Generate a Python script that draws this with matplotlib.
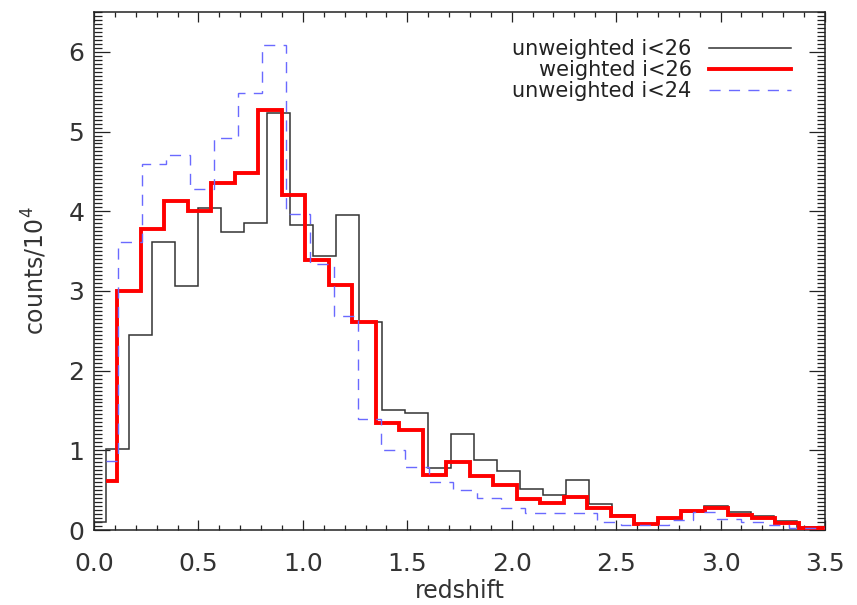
import numpy as np
import matplotlib
matplotlib.use('Agg')
import matplotlib.pyplot as plt
from matplotlib.lines import Line2D
from matplotlib.ticker import MultipleLocator

# ---- data (IDL psym=10 style histograms: bins given by first centre + width) ----
black_first_center = 0.0
black_width = 0.1103
black_counts = [0.10, 1.02, 2.45, 3.62, 3.06, 4.04, 3.74, 3.85, 5.23, 3.83,
                3.44, 3.95, 2.61, 1.50, 1.47, 0.78, 1.21, 0.88, 0.74, 0.51,
                0.44, 0.63, 0.33, 0.19, 0.08, 0.14, 0.23, 0.30, 0.23, 0.17,
                0.11, 0.04, 0.02]

red_first_center = 0.05625
red_width = 0.1125
red_counts = [0.61, 3.00, 3.78, 4.13, 4.00, 4.35, 4.48, 5.27, 4.20, 3.39,
              3.07, 2.61, 1.34, 1.26, 0.69, 0.85, 0.68, 0.56, 0.39, 0.34,
              0.41, 0.28, 0.17, 0.08, 0.155, 0.235, 0.27, 0.19, 0.15, 0.09,
              0.03, 0.03]

blue_first_center = 0.05735
blue_width = 0.1147
blue_counts = [0.86, 3.61, 4.59, 4.71, 4.28, 4.92, 5.48, 6.08, 3.97, 3.34,
               2.69, 1.39, 1.01, 0.79, 0.60, 0.50, 0.40, 0.27, 0.21, 0.21,
               0.21, 0.10, 0.06, 0.06, 0.13, 0.23, 0.14, 0.10, 0.06, 0.03,
               0.02]

series_labels = ['unweighted i<26', 'weighted i<26', 'unweighted i<24']
x_ticks = [0.0, 0.5, 1.0, 1.5, 2.0, 2.5, 3.0, 3.5]
y_ticks = [0, 1, 2, 3, 4, 5, 6]


def step_edges(first, width, n):
    centers = first + width * np.arange(n)
    mids = (centers[:-1] + centers[1:]) / 2.0
    return np.concatenate([[centers[0]], mids, [centers[-1]]])


fig = plt.figure(figsize=(8.57, 6.05), dpi=100)
ax = fig.add_axes([94 / 857, 75 / 605, 731 / 857, 518 / 605])

c_black = '#333333'
c_red = '#ff0000'
c_blue = '#6a6aff'

ax.stairs(black_counts, step_edges(black_first_center, black_width, len(black_counts)),
          baseline=None, color=c_black, lw=1.1, zorder=2)
ax.stairs(red_counts, step_edges(red_first_center, red_width, len(red_counts)),
          baseline=None, color=c_red, lw=2.8, zorder=3)
ax.stairs(blue_counts, step_edges(blue_first_center, blue_width, len(blue_counts)),
          baseline=None, color=c_blue, lw=1.0, linestyle=(0, (8, 6)), zorder=4)

ax.set_xlim(0, 3.5)
ax.set_ylim(0, 6.5)
ax.set_xticks(x_ticks)
ax.set_xticklabels([f'{v:.1f}' for v in x_ticks])
ax.set_yticks(y_ticks)
ax.set_yticklabels([str(v) for v in y_ticks])
ax.xaxis.set_minor_locator(MultipleLocator(0.1))
ax.yaxis.set_minor_locator(MultipleLocator(0.05))

for s in ax.spines.values():
    s.set_linewidth(1.1)
    s.set_color('#222222')

ax.tick_params(axis='both', which='both', direction='in', top=True, right=True,
               colors='#222222', labelcolor='#333333', width=0.9)
ax.tick_params(axis='x', which='major', length=7.2, labelsize=18, pad=16)
ax.tick_params(axis='x', which='minor', length=3.6)
ax.tick_params(axis='y', which='major', length=11.5, labelsize=18, pad=7)
ax.tick_params(axis='y', which='minor', length=5.8)

ax.set_xlabel('redshift', fontsize=17, color='#333333', labelpad=2)
ax.set_ylabel('counts/10$^4$', fontsize=17, color='#333333', labelpad=14)

handles = [Line2D([], [], color=c_black, lw=1.1),
           Line2D([], [], color=c_red, lw=2.8),
           Line2D([], [], color=c_blue, lw=1.0, linestyle=(0, (8, 6)))]
leg = ax.legend(handles, series_labels, loc='upper right', bbox_to_anchor=(0.953, 0.948),
                frameon=False, markerfirst=False, handlelength=3.9, handletextpad=0.85,
                labelspacing=0.05, borderpad=0, borderaxespad=0, fontsize=15)
for t in leg.get_texts():
    t.set_color('#222222')

fig.savefig('out.png', dpi=100)
